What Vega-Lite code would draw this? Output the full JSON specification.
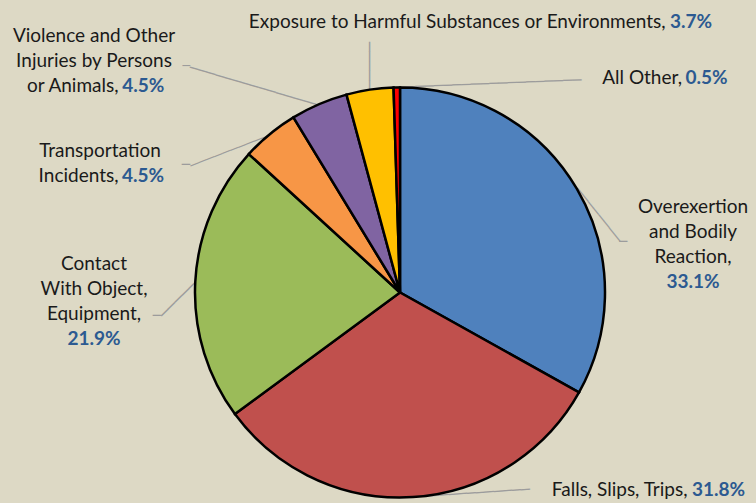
{
  "$schema": "https://vega.github.io/schema/vega-lite/v6.json",
  "width": 712,
  "height": 421,
  "autosize": "none",
  "padding": {"left": 44, "top": 82, "right": 0, "bottom": 0},
  "background": "#ddd9c5",
  "view": {"stroke": null},
  "config": {
    "text": {"font": "Lato", "fontSize": 19, "baseline": "alphabetic", "lineHeight": 25, "lineBreak": "\n", "color": "#1a1a1a"}
  },
  "data": {
    "values": [
      {"cause": "Overexertion and Bodily Reaction", "share": 33.1, "ord": 1, "top": "Overexertion\nand Bodily\nReaction,", "lead": "", "pct": "33.1%"},
      {"cause": "Falls, Slips, Trips", "share": 31.8, "ord": 2, "top": "", "lead": "Falls, Slips, Trips,", "pct": "31.8%"},
      {"cause": "Contact With Object, Equipment", "share": 21.9, "ord": 3, "top": "Contact\nWith Object,\nEquipment,", "lead": "", "pct": "21.9%"},
      {"cause": "Transportation Incidents", "share": 4.5, "ord": 4, "top": "Transportation", "lead": "Incidents,", "pct": "4.5%"},
      {"cause": "Violence and Other Injuries by Persons or Animals", "share": 4.5, "ord": 5, "top": "Violence and Other\nInjuries by Persons", "lead": "or Animals,", "pct": "4.5%"},
      {"cause": "Exposure to Harmful Substances or Environments", "share": 3.7, "ord": 6, "top": "", "lead": "Exposure to Harmful Substances or Environments,", "pct": "3.7%"},
      {"cause": "All Other", "share": 0.5, "ord": 7, "top": "", "lead": "All Other,", "pct": "0.5%"}
    ]
  },
  "encoding": {
    "theta": {"field": "share", "type": "quantitative", "stack": true},
    "order": {"field": "ord", "type": "quantitative"},
    "detail": {"field": "cause", "type": "nominal"}
  },
  "layer": [
    {"mark": {"type": "text", "radius": 205, "align": "left", "baseline": "middle", "font": "DejaVu Sans Mono", "fontSize": 14.1, "angle": 51.27, "color": "#9c9c9c"},
     "encoding": {"text": {"condition": {"test": "datum.ord == 1", "value": "\u2500\u2500\u2500\u2500\u2500\u2500\u2500\u2500"}, "value": ""}}},
    {"mark": {"type": "text", "radius": 205, "align": "left", "baseline": "middle", "font": "DejaVu Sans Mono", "fontSize": 13.4, "dx": 42.5, "dy": 53, "color": "#9c9c9c"},
     "encoding": {"text": {"condition": {"test": "datum.ord == 1", "value": "\u2500"}, "value": ""}}},
    {"mark": {"type": "text", "radius": 205, "align": "left", "baseline": "middle", "font": "DejaVu Sans Mono", "fontSize": 15.0, "angle": 356.19, "color": "#9c9c9c"},
     "encoding": {"text": {"condition": {"test": "datum.ord == 2", "value": "\u2500\u2500\u2500\u2500\u2500\u2500\u2500\u2500\u2500\u2500\u2500\u2500\u2500"}, "value": ""}}},
    {"mark": {"type": "text", "radius": 205, "align": "left", "baseline": "middle", "font": "DejaVu Sans Mono", "fontSize": 16.1, "angle": 135.42, "color": "#9c9c9c"},
     "encoding": {"text": {"condition": {"test": "datum.ord == 3", "value": "\u2500\u2500\u2500\u2500\u2500"}, "value": ""}}},
    {"mark": {"type": "text", "radius": 205, "align": "right", "baseline": "middle", "font": "DejaVu Sans Mono", "fontSize": 13.4, "dx": -34.6, "dy": 34.1, "color": "#9c9c9c"},
     "encoding": {"text": {"condition": {"test": "datum.ord == 3", "value": "\u2500"}, "value": ""}}},
    {"mark": {"type": "text", "radius": 205, "align": "left", "baseline": "middle", "font": "DejaVu Sans Mono", "fontSize": 14.2, "angle": 158.83, "color": "#9c9c9c"},
     "encoding": {"text": {"condition": {"test": "datum.ord == 4", "value": "\u2500\u2500\u2500\u2500\u2500\u2500\u2500\u2500\u2500\u2500"}, "value": ""}}},
    {"mark": {"type": "text", "radius": 205, "align": "right", "baseline": "middle", "font": "DejaVu Sans Mono", "fontSize": 13.8, "dx": -79.8, "dy": 30.9, "color": "#9c9c9c"},
     "encoding": {"text": {"condition": {"test": "datum.ord == 4", "value": "\u2500"}, "value": ""}}},
    {"mark": {"type": "text", "radius": 205, "align": "left", "baseline": "middle", "font": "DejaVu Sans Mono", "fontSize": 14.9, "angle": 196.43, "color": "#9c9c9c"},
     "encoding": {"text": {"condition": {"test": "datum.ord == 5", "value": "\u2500\u2500\u2500\u2500\u2500\u2500\u2500\u2500\u2500\u2500\u2500\u2500\u2500\u2500\u2500"}, "value": ""}}},
    {"mark": {"type": "text", "radius": 205, "align": "right", "baseline": "middle", "font": "DejaVu Sans Mono", "fontSize": 12.5, "dx": -129.2, "dy": -38.1, "color": "#9c9c9c"},
     "encoding": {"text": {"condition": {"test": "datum.ord == 5", "value": "\u2500"}, "value": ""}}},
    {"mark": {"type": "text", "radius": 205, "align": "left", "baseline": "middle", "font": "DejaVu Sans Mono", "fontSize": 15.85, "angle": 270, "color": "#9c9c9c"},
     "encoding": {"text": {"condition": {"test": "datum.ord == 6", "value": "\u2500\u2500\u2500\u2500\u2500"}, "value": ""}}},
    {"mark": {"type": "text", "radius": 205, "align": "left", "baseline": "middle", "font": "DejaVu Sans Mono", "fontSize": 15.37, "angle": 357.68, "color": "#9c9c9c"},
     "encoding": {"text": {"condition": {"test": "datum.ord == 7", "value": "\u2500\u2500\u2500\u2500\u2500\u2500\u2500\u2500\u2500\u2500\u2500\u2500\u2500\u2500\u2500\u2500\u2500\u2500\u2500\u2500"}, "value": ""}}},
    {
      "mark": {"type": "arc", "outerRadius": 205, "stroke": "#000000", "strokeWidth": 2.5},
      "encoding": {
        "color": {"field": "cause", "type": "nominal", "legend": null,
          "scale": {
            "domain": ["Overexertion and Bodily Reaction", "Falls, Slips, Trips", "Contact With Object, Equipment", "Transportation Incidents", "Violence and Other Injuries by Persons or Animals", "Exposure to Harmful Substances or Environments", "All Other"],
            "range": ["#4f81bd", "#c0504d", "#9bbb59", "#f79646", "#8064a2", "#ffc000", "#ff0000"]
          }
        }
      }
    },
    {"mark": {"type": "text", "radius": 225, "align": "center", "dx": 99, "dy": 34.4},
     "encoding": {"text": {"condition": {"test": "datum.ord == 1", "field": "top", "type": "nominal"}, "value": ""}}},
    {"mark": {"type": "text", "radius": 225, "align": "center", "dx": 99, "dy": 109.4, "fontWeight": "bold", "color": "#2c5a91"},
     "encoding": {"text": {"condition": {"test": "datum.ord == 1", "field": "pct", "type": "nominal"}, "value": ""}}},
    {"mark": {"type": "text", "radius": 225, "align": "right", "dx": 273.4, "dy": -21.1},
     "encoding": {"text": {"condition": {"test": "datum.ord == 2", "field": "lead", "type": "nominal"}, "value": ""}}},
    {"mark": {"type": "text", "radius": 225, "align": "left", "dx": 277.9, "dy": -21.1, "fontWeight": "bold", "color": "#2c5a91"},
     "encoding": {"text": {"condition": {"test": "datum.ord == 2", "field": "pct", "type": "nominal"}, "value": ""}}},
    {"mark": {"type": "text", "radius": 225, "align": "center", "dx": -81.3, "dy": -10},
     "encoding": {"text": {"condition": {"test": "datum.ord == 3", "field": "top", "type": "nominal"}, "value": ""}}},
    {"mark": {"type": "text", "radius": 225, "align": "center", "dx": -81.3, "dy": 65, "fontWeight": "bold", "color": "#2c5a91"},
     "encoding": {"text": {"condition": {"test": "datum.ord == 3", "field": "pct", "type": "nominal"}, "value": ""}}},
    {"mark": {"type": "text", "radius": 225, "align": "center", "dx": -157.1, "dy": 38.8},
     "encoding": {"text": {"condition": {"test": "datum.ord == 4", "field": "top", "type": "nominal"}, "value": ""}}},
    {"mark": {"type": "text", "radius": 225, "align": "right", "dx": -138.6, "dy": 63.3},
     "encoding": {"text": {"condition": {"test": "datum.ord == 4", "field": "lead", "type": "nominal"}, "value": ""}}},
    {"mark": {"type": "text", "radius": 225, "align": "left", "dx": -135.1, "dy": 63.3, "fontWeight": "bold", "color": "#2c5a91"},
     "encoding": {"text": {"condition": {"test": "datum.ord == 4", "field": "pct", "type": "nominal"}, "value": ""}}},
    {"mark": {"type": "text", "radius": 225, "align": "center", "dx": -217.3, "dy": -44},
     "encoding": {"text": {"condition": {"test": "datum.ord == 5", "field": "top", "type": "nominal"}, "value": ""}}},
    {"mark": {"type": "text", "radius": 225, "align": "right", "dx": -192.8, "dy": 6},
     "encoding": {"text": {"condition": {"test": "datum.ord == 5", "field": "lead", "type": "nominal"}, "value": ""}}},
    {"mark": {"type": "text", "radius": 225, "align": "left", "dx": -189, "dy": 6, "fontWeight": "bold", "color": "#2c5a91"},
     "encoding": {"text": {"condition": {"test": "datum.ord == 5", "field": "pct", "type": "nominal"}, "value": ""}}},
    {"mark": {"type": "text", "radius": 225, "align": "right", "dx": 298.6, "dy": -42.3},
     "encoding": {"text": {"condition": {"test": "datum.ord == 6", "field": "lead", "type": "nominal"}, "value": ""}}},
    {"mark": {"type": "text", "radius": 225, "align": "left", "dx": 303.1, "dy": -42.3, "fontWeight": "bold", "color": "#2c5a91"},
     "encoding": {"text": {"condition": {"test": "datum.ord == 6", "field": "pct", "type": "nominal"}, "value": ""}}},
    {"mark": {"type": "text", "radius": 225, "align": "right", "dx": 285.5, "dy": 16.8},
     "encoding": {"text": {"condition": {"test": "datum.ord == 7", "field": "lead", "type": "nominal"}, "value": ""}}},
    {"mark": {"type": "text", "radius": 225, "align": "left", "dx": 289, "dy": 16.8, "fontWeight": "bold", "color": "#2c5a91"},
     "encoding": {"text": {"condition": {"test": "datum.ord == 7", "field": "pct", "type": "nominal"}, "value": ""}}}
  ]
}
